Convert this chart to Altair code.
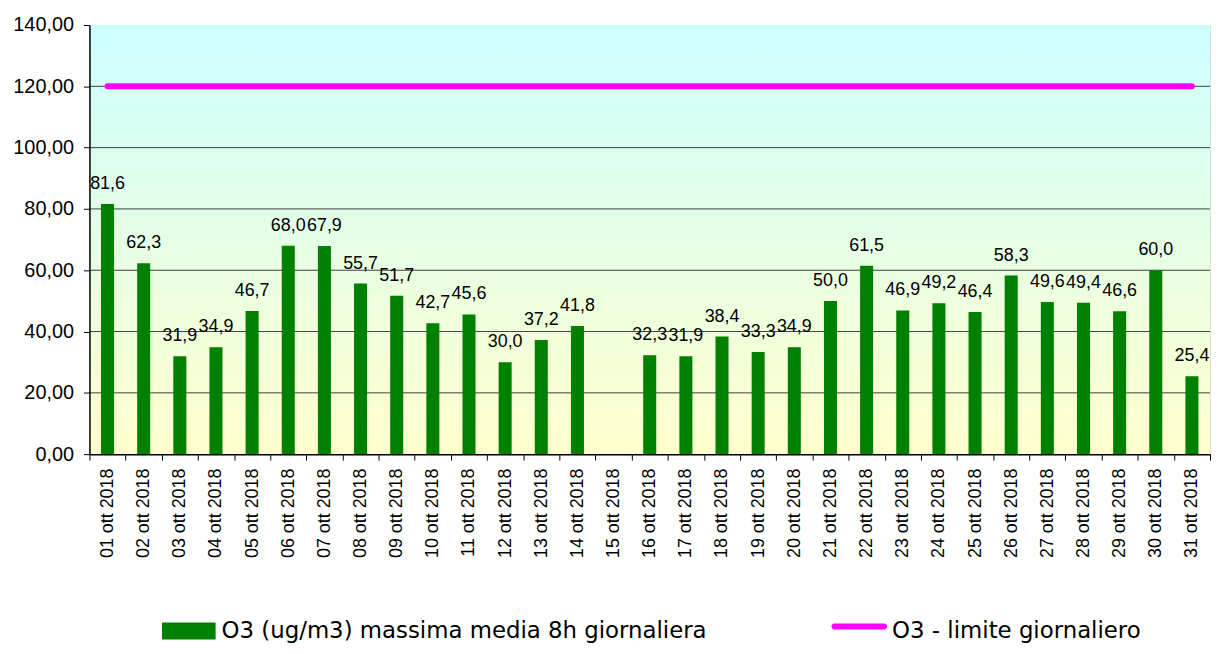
import altair as alt
import pandas as pd

# ---- data ----
days = [f"{d:02d} ott 2018" for d in range(1, 32)]
o3 = [81.6, 62.3, 31.9, 34.9, 46.7, 68.0, 67.9, 55.7, 51.7, 42.7,
      45.6, 30.0, 37.2, 41.8, None, 32.3, 31.9, 38.4, 33.3, 34.9,
      50.0, 61.5, 46.9, 49.2, 46.4, 58.3, 49.6, 49.4, 46.6, 60.0, 25.4]
limit = [120.0] * 31
grid_values = [20, 40, 60, 80, 100, 120]
y_ticks = [0, 20, 40, 60, 80, 100, 120, 140]
bar_name = "O3 (ug/m3) massima media 8h giornaliera"
line_name = "O3 - limite giornaliero"

W, H = 1128, 432

df = pd.DataFrame({"day": days, "o3": o3, "limit": limit,
                   "bar_series": bar_name, "line_series": line_name})

FONT = "Liberation Sans"

x_scale = alt.Scale(domain=days, paddingInner=0, paddingOuter=0)
x_axis = alt.Axis(title=None, labelAngle=-90, labelFontSize=18, labelFont=FONT,
                  labelColor="black", tickBand="extent", tickColor="black",
                  tickSize=6, labelPadding=8, domainColor="black",
                  domainWidth=1.5, grid=False, zindex=1)
y_scale = alt.Scale(domain=[0, 140], nice=False, zero=True)
y_axis = alt.Axis(title=None, values=y_ticks, labelFontSize=20, labelFont=FONT,
                  labelColor="black",
                  labelExpr="replace(format(datum.value, '.2f'), '.', ',')",
                  tickColor="black", tickSize=6, labelPadding=10,
                  domainColor="black", domainWidth=1.5, grid=False, zindex=1)

X = alt.X("day:N", sort=days, scale=x_scale, axis=x_axis)

bg = alt.Chart(pd.DataFrame({"a": [0]})).mark_rect(
    color=alt.LinearGradient(
        gradient="linear",
        stops=[alt.GradientStop(offset=0, color="#CCFFFF"),
               alt.GradientStop(offset=1, color="#FFFFCC")],
        x1=0, x2=0, y1=0, y2=1),
).encode(x=alt.value(0), x2=alt.value(W), y=alt.value(0), y2=alt.value(H))

grid = alt.Chart(pd.DataFrame({"g": grid_values})).mark_rule(
    color="#404040", strokeWidth=1
).encode(y=alt.Y("g:Q", scale=y_scale, axis=y_axis))

bars = alt.Chart(df).mark_bar(width={"band": 0.36}).encode(
    x=X,
    y=alt.Y("o3:Q", scale=y_scale, axis=y_axis),
    color=alt.Color("bar_series:N",
                    scale=alt.Scale(domain=[bar_name], range=["#008000"]),
                    legend=alt.Legend(title=None, orient="none", legendX=73, legendY=583,
                                      symbolType="M-1,-0.315H1V0.315H-1Z",
                                      symbolSize=2916, symbolStrokeWidth=0,
                                      symbolOpacity=1,
                                      labelFontSize=23, labelFont="DejaVu Sans",
                                      labelColor="black", labelOffset=6,
                                      padding=0, labelLimit=0)),
)

capsule = ("M-0.893,-0.267H0.893A0.107,0.107,0,0,1,0.893,-0.053"
           "H-0.893A0.107,0.107,0,0,1,-0.893,-0.267Z")

line = alt.Chart(df).mark_line(strokeWidth=6, strokeCap="round").encode(
    x=X,
    y=alt.Y("limit:Q", scale=y_scale, axis=y_axis),
    stroke=alt.Stroke("line_series:N",
                      scale=alt.Scale(domain=[line_name], range=["#FF00FF"]),
                      legend=alt.Legend(title=None, orient="none", legendX=747, legendY=582,
                                        symbolType=capsule, symbolSize=3136,
                                        symbolFillColor="#FF00FF",
                                        symbolStrokeWidth=0,
                                        labelFontSize=23, labelFont="DejaVu Sans",
                                        labelColor="black", labelOffset=5,
                                        padding=0, labelLimit=0)),
)

labels = alt.Chart(df).transform_filter("isValid(datum.o3)").transform_calculate(
    lbl="replace(format(datum.o3, '.1f'), '.', ',')"
).mark_text(fontSize=18, font=FONT, baseline="alphabetic", dy=-15, color="black").encode(
    x=X,
    y=alt.Y("o3:Q", scale=y_scale, axis=y_axis),
    text="lbl:N",
)

chart = alt.layer(bg, grid, bars, line, labels).resolve_scale(
    color="independent", stroke="independent"
).properties(
    width=W, height=H,
    padding={"left": 82, "top": 15, "right": 1, "bottom": 191},
    autosize="none",
).configure_view(stroke="#808080", strokeWidth=1).configure(background="white")

chart.save("out.html", embed_options={"renderer": "svg", "actions": False})
